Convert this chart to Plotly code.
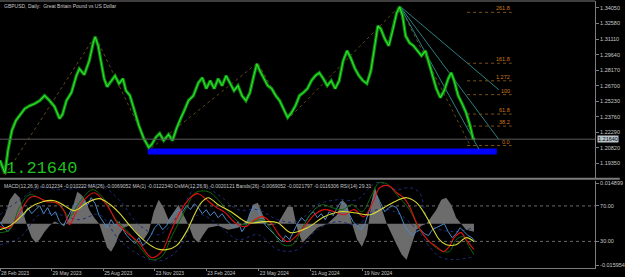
import plotly.graph_objects as go

# ---------------- data ----------------
price_x = [0, 3, 5, 8, 12, 16, 20, 25, 30, 35, 40, 45, 50, 55, 60, 63, 67, 72, 77, 80, 85, 90, 94, 96, 99,
           102, 105, 108, 112, 116, 120, 124, 127, 131, 135, 140, 145, 150, 153, 157, 161, 165, 170, 174, 178,
           182, 186, 190, 195, 200, 204, 208, 212, 216, 220, 224, 228, 232, 236, 240, 244, 248, 252, 256, 259,
           262, 266, 270, 274, 278, 282, 286, 290, 294, 298, 302, 306, 310, 314, 318, 322, 326, 330, 334, 338,
           342, 346, 350, 354, 358, 362, 366, 370, 374, 378, 381, 384, 388, 392, 396, 400, 403, 406, 409, 413,
           417, 421, 425, 429, 432, 436, 440, 444, 448, 452, 455, 458, 462, 466, 470, 474, 477, 479]
price_close = [1.1963, 1.1888, 1.1840, 1.2057, 1.2246, 1.2340, 1.2387, 1.2453, 1.2481, 1.2500, 1.2528, 1.2576,
               1.2528, 1.2472, 1.2359, 1.2397, 1.2528, 1.2604, 1.2764, 1.2830, 1.2774, 1.2905, 1.3075, 1.3132,
               1.3047, 1.2905, 1.2736, 1.2660, 1.2717, 1.2764, 1.2689, 1.2736, 1.2623, 1.2576, 1.2453, 1.2293,
               1.2170, 1.2086, 1.2114, 1.2180, 1.2218, 1.2151, 1.2208, 1.2151, 1.2265, 1.2359, 1.2434, 1.2528,
               1.2576, 1.2698, 1.2745, 1.2642, 1.2717, 1.2642, 1.2736, 1.2670, 1.2764, 1.2698, 1.2623, 1.2670,
               1.2576, 1.2528, 1.2604, 1.2764, 1.2877, 1.2811, 1.2736, 1.2670, 1.2642, 1.2576, 1.2528, 1.2453,
               1.2368, 1.2415, 1.2481, 1.2576, 1.2604, 1.2642, 1.2717, 1.2764, 1.2792, 1.2736, 1.2670, 1.2717,
               1.2642, 1.2717, 1.2905, 1.3000, 1.2924, 1.2830, 1.2764, 1.2717, 1.2689, 1.2811, 1.3047, 1.3235,
               1.3207, 1.3113, 1.3047, 1.3188, 1.3358, 1.3414, 1.3330, 1.3141, 1.3075, 1.3047, 1.3000, 1.2953,
               1.3000, 1.2905, 1.2792, 1.2642, 1.2557, 1.2623, 1.2736, 1.2792, 1.2717, 1.2576, 1.2500, 1.2415,
               1.2293, 1.2170, 1.2164]
last_price = 1.2164

price_ticks = [1.3405, 1.3258, 1.3111, 1.2964, 1.2817, 1.2670, 1.2523, 1.2376, 1.2229, 1.2082, 1.1935]
price_ticktext = ["1.34050", "1.32580", "1.31110", "1.29640", "1.28170", "1.26700", "1.25230",
                  "1.23760", "1.22290", "1.20820", "1.19350"]

date_pos = [0, 52, 104, 156, 208, 261, 313, 366]
date_text = ["28 Feb 2023", "29 May 2023", "25 Aug 2023", "23 Nov 2023", "23 Feb 2024",
             "23 May 2024", "21 Aug 2024", "19 Nov 2024"]

# zigzag swing points
zz_x = [5, 96, 151, 260, 291, 403, 473]
zz_p = [1.1822, 1.3141, 1.2067, 1.2887, 1.2359, 1.3424, 1.2123]

# fibonacci expansion
fib_x = [471, 516]
fib_p0 = 1.2104
fib_p100 = 1.2585
fib_ratio = [2.618, 1.618, 1.272, 1.0, 0.618, 0.382, 0.0]
fib_label = ["261.8", "161.8", "1.272", "100", "61.8", "38.2", "0.0"]

# fan lines from the top
fan_start = (403, 1.3424)
fan_end_x = [503, 503, 483]
fan_end_p = [1.2632, 1.2161, 1.2067]

# blue zone
zone_x = [149, 501]
zone_p = [1.2020, 1.2076]

# indicator window (RSI scale 0..100)
hist_x = [0, 5, 10, 15, 20, 24, 28, 32, 36, 40, 45, 50, 55, 60, 65, 70, 75, 78, 82, 86, 90, 95, 100, 104, 108,
          112, 116, 120, 125, 130, 135, 140, 145, 150, 155, 160, 165, 170, 175, 180, 185, 190, 195, 200, 205,
          210, 220, 230, 240, 250, 255, 260, 265, 270, 280, 290, 295, 300, 305, 310, 320, 330, 340, 345, 350,
          355, 360, 365, 370, 375, 378, 382, 390, 400, 405, 410, 415, 420, 425, 430, 440, 445, 450, 455, 460,
          465, 470, 478]
hist_v = [50, 60.1, 77.0, 84.9, 79.3, 60.1, 45.5, 34.2, 28.6, 32.0, 41.0, 47.7, 52.3, 50, 47.7, 56.8, 77.0,
          86.1, 82.7, 77.0, 65.8, 56.8, 50, 37.6, 23.0, 18.4, 26.3, 37.6, 45.5, 47.7, 43.2, 36.5, 32.0, 41.0,
          63.5, 77.0, 68.0, 54.5, 63.5, 71.4, 60.1, 48.9, 34.2, 28.6, 37.6, 45.5, 47.7, 43.2, 45.5, 54.5, 71.4,
          73.7, 60.1, 47.7, 50, 69.2, 69.2, 43.2, 28.6, 34.2, 45.5, 50, 60.1, 77.0, 71.4, 50, 32.0, 24.1, 37.6,
          77.0, 91.7, 77.0, 50, 26.3, 15.1, 9.4, 26.3, 43.2, 47.7, 50, 65.8, 77.0, 79.3, 71.4, 56.8, 50, 43.2,
          41.0]
hist_base = 50

red_x = [0, 10, 20, 30, 37, 47, 57, 65, 70, 77, 85, 95, 105, 112, 118, 127, 140, 153, 163, 173, 183, 193, 200,
         207, 217, 227, 237, 247, 257, 265, 273, 283, 290, 297, 307, 317, 327, 337, 347, 357, 367, 377, 383,
         392, 400, 407, 413, 420, 427, 433, 440, 447, 453, 458, 465, 470, 478]
red_v = [46.6, 45.5, 62.4, 79.3, 80.4, 74.8, 73.7, 63.5, 48.9, 63.5, 77.0, 84.9, 74.8, 63.5, 51.1, 41.0, 28.6,
         11.7, 18.4, 43.2, 65.8, 80.4, 83.8, 78.2, 69.2, 62.4, 51.1, 46.6, 54.5, 57.9, 51.1, 35.3, 29.7, 34.2,
         46.6, 60.1, 65.8, 63.5, 60.1, 65.8, 57.9, 77.0, 90.6, 92.8, 84.9, 79.3, 69.2, 51.1, 37.6, 29.7, 24.1,
         18.4, 24.1, 34.2, 39.9, 32.0, 20.7]

yel_x = [0, 10, 20, 30, 43, 55, 65, 75, 88, 100, 110, 120, 130, 140, 148, 158, 168, 178, 188, 196, 203, 210,
         220, 233, 250, 267, 280, 293, 310, 327, 343, 357, 373, 387, 400, 410, 420, 430, 437, 443, 450, 460,
         470, 478]
yel_v = [43.2, 47.7, 56.8, 68.0, 74.8, 75.9, 70.3, 64.7, 73.7, 78.2, 72.5, 62.4, 48.9, 36.5, 28.6, 21.8, 20.7,
         25.2, 41.0, 60.1, 73.7, 79.3, 71.4, 63.5, 51.1, 52.3, 51.1, 39.9, 45.5, 57.9, 63.5, 62.4, 60.1, 68.0,
         75.9, 79.3, 73.7, 57.9, 43.2, 32.0, 26.3, 26.3, 34.2, 29.7]

grn_x = [0, 10, 20, 30, 43, 60, 70, 80, 93, 103, 117, 130, 143, 153, 163, 173, 187, 197, 210, 220, 230, 245,
         255, 265, 275, 285, 295, 305, 315, 325, 335, 345, 355, 365, 375, 382, 390, 400, 413, 423, 433, 443,
         453, 460, 467, 473, 478]
grn_v = [39.9, 43.2, 69.2, 82.7, 77.0, 71.4, 57.9, 73.7, 88.3, 80.4, 54.5, 39.9, 20.7, 9.4, 12.8, 35.3, 65.8,
         84.9, 86.1, 77.0, 63.5, 48.9, 52.3, 54.5, 41.0, 26.3, 26.3, 45.5, 63.5, 71.4, 68.0, 65.8, 71.4, 63.5,
         82.7, 96.0, 95.0, 82.7, 65.8, 43.2, 29.7, 20.7, 18.4, 32.0, 35.3, 24.1, 15.1]

rsi_x = list(range(0, 480, 4)) + [479]
rsi_v = [52.3, 45.5, 41.0, 47.7, 56.8, 63.5, 59.0, 68.0, 61.3, 65.8, 70.3, 61.3, 68.0, 59.0, 63.5, 52.3, 47.7,
         56.8, 65.8, 72.5, 68.0, 77.0, 70.3, 79.3, 72.5, 59.0, 52.3, 45.5, 54.5, 47.7, 52.3, 43.2, 36.5, 32.0,
         27.5, 34.2, 25.2, 29.7, 36.5, 45.5, 50.0, 43.2, 47.7, 56.8, 61.3, 65.8, 63.5, 70.3, 65.8, 72.5, 68.0,
         61.3, 65.8, 59.0, 63.5, 56.8, 61.3, 54.5, 50.0, 45.5, 52.3, 41.0, 47.7, 61.3, 70.3, 65.8, 54.5, 47.7,
         43.2, 38.7, 34.2, 29.7, 36.5, 32.0, 41.0, 50.0, 56.8, 52.3, 59.0, 63.5, 56.8, 61.3, 54.5, 63.5, 59.0,
         68.0, 74.8, 70.3, 61.3, 52.3, 47.7, 43.2, 50.0, 63.5, 77.0, 81.6, 72.5, 63.5, 68.0, 70.3, 68.0, 59.0,
         47.7, 41.0, 36.5, 41.0, 43.2, 38.7, 36.5, 43.2, 45.5, 47.7, 50.0, 41.0, 34.2, 38.7, 45.5, 41.0, 36.5,
         34.2, 29.3]

bu_x = [0, 20, 40, 60, 80, 100, 120, 140, 160, 180, 200, 220, 240, 260, 280, 300, 320, 340, 360, 380, 400, 413,
        423, 430, 437, 457, 478]
bu_v = [60.1, 77.0, 90.6, 88.3, 90.6, 94.0, 77.0, 48.9, 37.6, 60.1, 94.0, 82.7, 65.8, 65.8, 54.5, 52.3, 71.4,
        77.0, 77.0, 96.5, 88.3, 90.6, 84.9, 57.9, 46.6, 41.0, 45.5]
bl_x = [0, 20, 40, 60, 80, 100, 120, 140, 160, 180, 200, 220, 240, 260, 280, 300, 320, 340, 360, 380, 400, 423,
        433, 443, 457, 478]
bl_v = [26.3, 34.2, 60.1, 60.1, 54.5, 60.1, 32.0, 15.1, 8.0, 20.7, 60.1, 48.9, 32.0, 37.6, 20.7, 20.7, 43.2,
        52.3, 48.9, 65.8, 62.4, 39.9, 24.1, 12.8, 9.4, 12.8]

ind_ticks = [95.5, 70, 30, 3.3]
ind_ticktext = ["0.014899", "70.00", "30.00", "-0.015954"]
rsi_levels = [70, 30]

title_text = "GBPUSD, Daily:  Great Britain Pound vs US Dollar"
ind_text = ("MACD(12,26,9) -0.012234 -0.010222 MA(26) -0.0069052 MA(1) -0.0122340 OsMA(12,26,9) -0.0020121 "
            "Bands(26) -0.0069052 -0.0021797 -0.0116306 RSI(14) 29.31")

# ---------------- figure ----------------
W, H = 625, 277
ML, MR, MT, MB = 0, 25, 0, 9
PH = H - MT - MB  # plot height (px)
FONT = "Liberation Sans Narrow, Liberation Sans, Arial, sans-serif"
AX = "#7c7c7c"
TXT = "#c8c8c8"

fig = go.Figure()

# --- main window ---
fig.add_trace(go.Scatter(x=zone_x, y=[zone_p[0]] * 2, mode="lines", line=dict(width=0),
                         xaxis="x", yaxis="y", hoverinfo="skip", showlegend=False))
fig.add_trace(go.Scatter(x=zone_x, y=[zone_p[1]] * 2, mode="lines", line=dict(width=0),
                         fill="tonexty", fillcolor="#0000ff",
                         xaxis="x", yaxis="y", hoverinfo="skip", showlegend=False))

fig.add_trace(go.Scatter(x=zz_x, y=zz_p, mode="lines", line=dict(color="#5e4818", width=1, dash="dot"),
                         xaxis="x", yaxis="y", hoverinfo="skip", showlegend=False))

for ex, ep in zip(fan_end_x, fan_end_p):
    fig.add_trace(go.Scatter(x=[fan_start[0], ex], y=[fan_start[1], ep], mode="lines",
                             line=dict(color="#2a8080", width=1),
                             xaxis="x", yaxis="y", hoverinfo="skip", showlegend=False))

for r, lab in zip(fib_ratio, fib_label):
    lvl = fib_p0 + r * (fib_p100 - fib_p0)
    fig.add_trace(go.Scatter(x=fib_x, y=[lvl, lvl], mode="lines",
                             line=dict(color="#7a5018", width=1, dash="dot"),
                             xaxis="x", yaxis="y", hoverinfo="skip", showlegend=False))
    fig.add_annotation(x=fib_x[1], y=lvl, xref="x", yref="y", text=lab, showarrow=False,
                       xanchor="right", yanchor="bottom", yshift=-1,
                       font=dict(family=FONT, size=5.5, color="#d07a1e"))

# price: darker body under a brighter core to mimic dense daily bars
fig.add_trace(go.Scatter(x=price_x, y=price_close, mode="lines", line=dict(color="#0e8a0e", width=3.2),
                         xaxis="x", yaxis="y", hoverinfo="skip", showlegend=False))
fig.add_trace(go.Scatter(x=price_x, y=price_close, mode="lines", line=dict(color="#2ee02e", width=1.1),
                         xaxis="x", yaxis="y", hoverinfo="skip", showlegend=False))

# current price line
fig.add_shape(type="line", xref="paper", yref="y", x0=0, x1=1, y0=last_price, y1=last_price,
              line=dict(color="#5a5a5a", width=1))
fig.add_annotation(xref="paper", yref="y", x=1.0, y=last_price, text="1.21640", showarrow=False,
                   xanchor="left", xshift=2, bgcolor="#b8c4cc", borderpad=0,
                   font=dict(family=FONT, size=5.5, color="#000000"))

# --- indicator window ---
fig.add_trace(go.Scatter(x=hist_x, y=[hist_base] * len(hist_x), mode="lines", line=dict(width=0),
                         xaxis="x2", yaxis="y2", hoverinfo="skip", showlegend=False))
fig.add_trace(go.Scatter(x=hist_x, y=hist_v, mode="lines", line=dict(width=0, color="#707070"),
                         fill="tonexty", fillcolor="#6c6c6c",
                         xaxis="x2", yaxis="y2", hoverinfo="skip", showlegend=False))
fig.add_trace(go.Scatter(x=bu_x, y=bu_v, mode="lines", line=dict(color="#1c2c78", width=1, dash="dot", shape="spline"),
                         xaxis="x2", yaxis="y2", hoverinfo="skip", showlegend=False))
fig.add_trace(go.Scatter(x=bl_x, y=bl_v, mode="lines", line=dict(color="#1c2c78", width=1, dash="dot", shape="spline"),
                         xaxis="x2", yaxis="y2", hoverinfo="skip", showlegend=False))
fig.add_trace(go.Scatter(x=rsi_x, y=rsi_v, mode="lines", line=dict(color="#4a88c8", width=1),
                         xaxis="x2", yaxis="y2", hoverinfo="skip", showlegend=False))
fig.add_trace(go.Scatter(x=grn_x, y=grn_v, mode="lines", line=dict(color="#0a6a0a", width=1, shape="spline"),
                         xaxis="x2", yaxis="y2", hoverinfo="skip", showlegend=False))
fig.add_trace(go.Scatter(x=red_x, y=red_v, mode="lines", line=dict(color="#e01010", width=1.1, shape="spline"),
                         xaxis="x2", yaxis="y2", hoverinfo="skip", showlegend=False))
fig.add_trace(go.Scatter(x=yel_x, y=yel_v, mode="lines", line=dict(color="#dada30", width=1.1, shape="spline"),
                         xaxis="x2", yaxis="y2", hoverinfo="skip", showlegend=False))

for lv in rsi_levels:
    fig.add_shape(type="line", xref="paper", yref="y2", x0=0, x1=1, y0=lv, y1=lv,
                  line=dict(color="#6a6a6a", width=1, dash="dot"))

# separators / frame
sep_y = 1 - 178.5 / PH
fig.add_shape(type="line", xref="paper", yref="paper", x0=0, x1=W / (W - MR), y0=sep_y, y1=sep_y,
              line=dict(color=AX, width=2))
fig.add_shape(type="line", xref="paper", yref="paper", x0=0, x1=1, y0=1, y1=1,
              line=dict(color=AX, width=1))

# texts
fig.add_annotation(xref="paper", yref="paper", x=2 / 600, y=1 - 5 / PH, text=title_text, showarrow=False,
                   xanchor="left", yanchor="middle", font=dict(family=FONT, size=5, color=TXT))
fig.add_annotation(xref="paper", yref="paper", x=2 / 600, y=1 - 186 / PH, text=ind_text, showarrow=False,
                   xanchor="left", yanchor="middle", font=dict(family=FONT, size=5, color=TXT))
fig.add_annotation(xref="paper", yref="paper", x=4 / 600, y=1 - 168.5 / PH, text="1.21640", showarrow=False,
                   xanchor="left", yanchor="middle",
                   font=dict(family="Liberation Mono, Courier New, monospace", size=17, color="#1fbf1f"))

main_bottom = 1 - 178 / PH
ind_top = 1 - 181 / PH
price_top = 1.3471
price_bot = 1.3471 - 178 * 0.0009425

fig.update_layout(
    width=W, height=H,
    margin=dict(l=ML, r=MR, t=MT, b=MB),
    paper_bgcolor="#000000", plot_bgcolor="#000000",
    showlegend=False,
    xaxis=dict(domain=[0, 1], range=[0, 600], anchor="y", showticklabels=False, showgrid=False,
               zeroline=False, showline=False, fixedrange=True),
    yaxis=dict(domain=[main_bottom, 1], range=[price_bot, price_top], side="right",
               tickvals=price_ticks, ticktext=price_ticktext, showgrid=False, zeroline=False,
               showline=True, linecolor=AX, linewidth=1, ticks="outside", ticklen=3, tickcolor=AX,
               tickfont=dict(family=FONT, size=5.5, color=TXT)),
    xaxis2=dict(domain=[0, 1], range=[0, 600], anchor="y2", tickvals=date_pos, ticktext=date_text,
                ticklabelposition="outside right", showgrid=False, zeroline=False, showline=True,
                linecolor=AX, linewidth=1, ticks="outside", ticklen=2, tickcolor=AX,
                tickfont=dict(family=FONT, size=5, color=TXT)),
    yaxis2=dict(domain=[0, ind_top], range=[0, 97.75], side="right", anchor="x2",
                tickvals=ind_ticks, ticktext=ind_ticktext, showgrid=False, zeroline=False,
                showline=True, linecolor=AX, linewidth=1, ticks="outside", ticklen=3, tickcolor=AX,
                tickfont=dict(family=FONT, size=5.5, color=TXT)),
)

fig.write_html("out.html")
